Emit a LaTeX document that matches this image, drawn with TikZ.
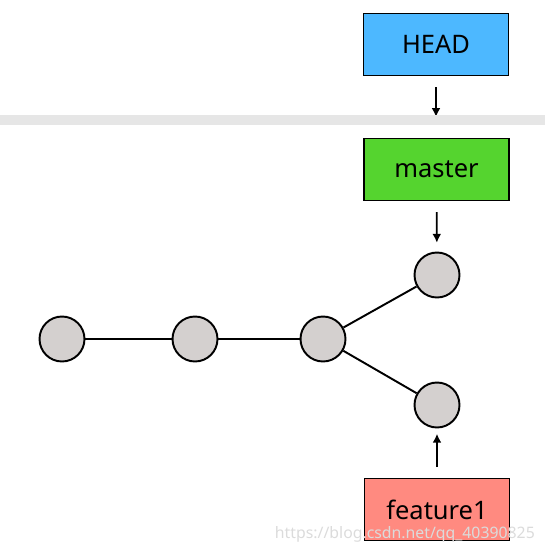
\documentclass[tikz,border=0pt]{standalone}
\usepackage{fontspec}
\setmainfont{Noto Sans}
\usepackage{xcolor}
\usetikzlibrary{arrows.meta,positioning}

\definecolor{headblue}{HTML}{4DB8FF}
\definecolor{mastergreen}{HTML}{55D42F}
\definecolor{featurered}{HTML}{FF8A80}
\definecolor{commitgray}{HTML}{D4D0CF}
\definecolor{bandgray}{HTML}{E6E6E6}

\begin{document}
\begin{tikzpicture}[
  x=0.02cm, y=-0.02cm,
  font=\fontsize{14.5}{17}\selectfont,
  >={Latex[length=5pt,width=5pt]},
  branch/.style={draw=black, line width=1.1pt, minimum width=2.9cm,
    minimum height=1.24cm, inner sep=0pt},
  commit/.style={circle, draw=black, line width=1.1pt, fill=commitgray,
    minimum size=0.9cm, inner sep=0pt},
  link/.style={line width=1.1pt},
  arrow/.style={->, line width=1pt, shorten <=6pt}
]
  \useasboundingbox (0,0) rectangle (545,558);

  \node[branch, fill=headblue] (head) at (436,44.5) {HEAD};
  \node[branch, fill=mastergreen] (master) at (436.5,169.5) {master};
  \node[branch, fill=featurered] (feature) at (437,509.5) {feature1};

  \node[commit] (c1) at (62,339) {};
  \node[commit] (c2) at (195,339) {};
  \node[commit] (c3) at (323,339) {};
  \node[commit] (c4) at (437,275) {};
  \node[commit] (c5) at (437,405) {};

  \draw[link] (c1) -- (c2);
  \draw[link] (c2) -- (c3);
  \draw[link] (c3) -- (c4);
  \draw[link] (c3) -- (c5);

  % pointers
  \coordinate (headtip) at (436,117);
  \draw[arrow] (head) -- (headtip);
  \fill[bandgray] (0,115) rectangle (545,125);
  \draw[arrow, shorten >=5pt] (master) -- (c4);
  \draw[arrow, shorten >=3pt] (feature) -- (c5);

  \node[text=black!14, font=\fontsize{9}{11}\selectfont, anchor=east] (mark)
    at (541,534) {https://blog.csdn.net/qq\_40390825};
\end{tikzpicture}
\end{document}
